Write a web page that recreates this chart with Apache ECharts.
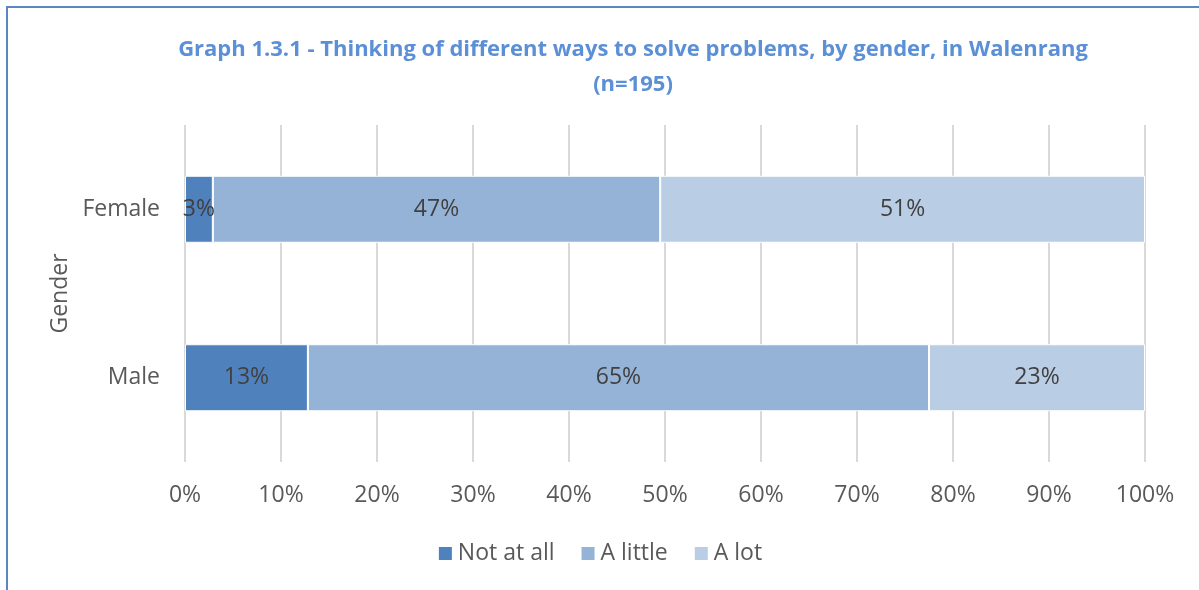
<!DOCTYPE html>
<html>
<head>
<meta charset="utf-8">
<script src="https://cdn.jsdelivr.net/npm/echarts@6/dist/echarts.min.js"></script>
<style>
  html, body { margin: 0; padding: 0; background: #fff; }
  #frame {
    position: absolute; left: 6px; top: 6px; width: 1193px; height: 584px;
    border-top: 2px solid #5a86c2; border-left: 2px solid #5a86c2;
    box-sizing: border-box;
  }
  #chart { position: absolute; left: 0; top: 0; width: 1199px; height: 590px; }
</style>
</head>
<body>
<div id="frame"></div>
<div id="chart"></div>
<script>
  // categories bottom -> top
  let genders = ['Male', 'Female'];
  let notAtAll = [12.8, 2.9];
  let aLittle = [64.7, 46.6];
  let aLot = [22.5, 50.5];
  let seriesNames = ['Not at all', 'A little', 'A lot'];
  let colors = ['#4f81bd', '#95b3d7', '#b9cde5'];

  let myChart = echarts.init(document.getElementById('chart'));

  function makeSeries(name, values, color) {
    return {
      name: name,
      type: 'bar',
      stack: 'total',
      barWidth: 67,
      data: values,
      itemStyle: { color: color, borderColor: '#fff', borderWidth: 1 },
      label: {
        show: true,
        position: 'inside',
        color: '#404040',
        fontSize: 23,
        fontFamily: 'Open Sans',
        formatter: function (p) { return Math.round(p.value) + '%'; }
      }
    };
  }

  let option = {
    animation: false,
    title: {
      text: 'Graph 1.3.1 - Thinking of different ways to solve problems, by gender, in Walenrang\n(n=195)',
      left: 628,
      textAlign: 'center',
      top: 27,
      textStyle: {
        color: '#5b8fd6',
        fontSize: 22,
        fontWeight: 'bold',
        fontFamily: 'Open Sans',
        lineHeight: 35
      }
    },
    legend: {
      data: seriesNames,
      bottom: 20,
      left: 'center',
      itemWidth: 15,
      itemHeight: 15,
      itemGap: 25,
      icon: 'rect',
      textStyle: { color: '#595959', fontSize: 23, fontFamily: 'Open Sans' }
    },
    grid: { left: 185, right: 54, top: 125, bottom: 128 },
    xAxis: {
      type: 'value',
      min: 0,
      max: 100,
      interval: 10,
      axisLine: { show: false },
      axisTick: { show: false },
      splitLine: { lineStyle: { color: '#d9d9d9', width: 2 } },
      axisLabel: {
        formatter: '{value}%',
        color: '#595959',
        fontSize: 23,
        fontFamily: 'Open Sans',
        margin: 22
      }
    },
    yAxis: {
      type: 'category',
      data: genders,
      name: 'Gender',
      nameLocation: 'middle',
      nameRotate: 90,
      nameGap: 112,
      nameTextStyle: { color: '#595959', fontSize: 23, fontFamily: 'Open Sans' },
      axisLine: { show: false },
      axisTick: { show: false },
      axisLabel: { color: '#595959', fontSize: 23, fontFamily: 'Open Sans', margin: 25 }
    },
    series: [
      makeSeries(seriesNames[0], notAtAll, colors[0]),
      makeSeries(seriesNames[1], aLittle, colors[1]),
      makeSeries(seriesNames[2], aLot, colors[2])
    ]
  };
  myChart.setOption(option);
</script>
</body>
</html>
